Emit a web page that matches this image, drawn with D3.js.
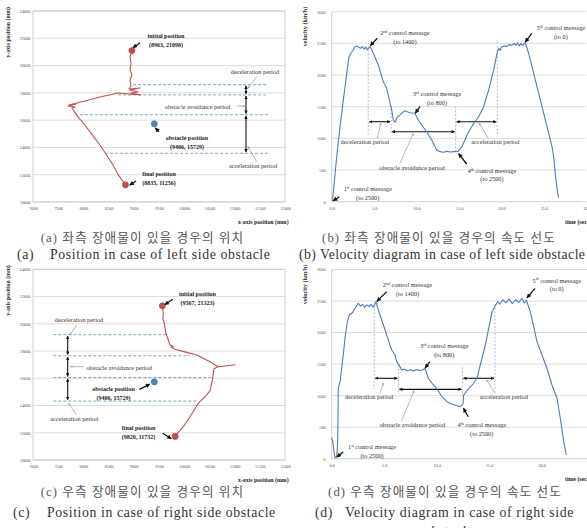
<!DOCTYPE html>
<html><head><meta charset="utf-8">
<script src="https://cdn.jsdelivr.net/npm/d3@7"></script>
<style>body{margin:0;background:#fff;overflow:hidden}svg{display:block}</style>
</head><body>
<svg id="c" width="587" height="528"></svg>
<script>
// ---------- DATA ----------
const posXTicks = [7000,7500,8000,8500,9000,9500,10000,10500,11000,11500,12000];
const posYTicks = [10000,12000,14000,16000,18000,20000,22000,24000];
const velYTicks = [0,500,1000,1500,2000,2500,3000];
const velXTicksB = [0,5,10,15,20,25,30];
const velXTicksD = [0,5,10,15,20,25];

// (a) left side obstacle trajectory (mm)
const trajAx = [8963,8925,8944,8925,8964,8925,8944,8905,9123,8925,9083,8944,9143,8686,8329,8032,7714,7853,7694,7833,7774,7900,8032,8180,8329,8460,8587,8700,8835];
const trajAy = [21098,20628,20188,19675,19309,18942,18502,18283,18356,18209,18063,17989,17843,17989,17696,17403,17110,17183,17036,16963,16890,16200,15644,14900,14178,13450,12712,11950,11256];
// (c) right side obstacle trajectory (mm)
const trajCx = [9567,9585,9575,9605,9620,9639,9684,9718,9784,9738,9817,10030,10248,10512,10676,11008,10676,10591,10560,10512,10400,10280,10115,9982,9900,9820];
const trajCy = [21323,20770,20400,20036,19700,19302,18810,18443,18318,18296,18127,17920,17709,17217,16850,16997,16850,16703,15900,15075,14600,14163,13179,12445,12100,11732];

const pointNames = ["initial position","obstacle position","final position"];
const pointsA = [[8963,21098],[9406,15729],[8835,11256]];
const pointsC = [[9567,21323],[9406,15729],[9820,11732]];

// period boundaries
const periodLevelsA = [18600,17850,16400,13570];
const periodStartA = [8985,8690,7930,8430];
const periodEndA = 11660;
const periodLevelsC = [19200,17650,16050,14330];
const periodEndC = [9684,10115,10545,10248];
const periodStartC = 7403;
const periodNames = ["deceleration period","obstacle avoidance period","acceleration period"];

// (b) velocity, left side obstacle
const velBt = [0.1,0.59,0.98,1.37,1.77,2.04,2.27,2.54,2.74,2.94,3.2,3.4,3.6,3.8,4.0,4.2,4.4,4.55,4.9,5.49,6.08,6.48,6.78,7.07,7.26,7.46,7.73,8.25,8.63,9.22,9.81,10.2,10.6,11.19,11.78,12.37,12.76,13.2,13.55,14.0,14.32,14.84,15.35,15.94,16.73,17.31,17.9,18.49,19.08,19.47,19.67,19.85,20.0,20.3,20.6,20.9,21.2,21.5,21.7,21.9,22.1,22.3,22.5,22.8,23.2,23.59,24.18,24.77,25.36,25.95,26.15,26.33,26.62,26.74];
const velBv = [10,711,1184,1606,2027,2290,2343,2395,2447,2459,2440,2420,2450,2410,2440,2400,2430,2450,2343,2159,1895,1790,1606,1448,1290,1254,1333,1396,1437,1405,1396,1290,1211,1105,974,816,790,780,795,785,790,790,868,1053,1238,1342,1500,1764,2080,2343,2422,2390,2440,2460,2450,2480,2470,2500,2470,2510,2460,2500,2470,2510,2343,2132,1816,1500,1184,868,711,448,133,63];
const periodTimesB = [4.3,7.0,14.6,19.5];

// (d) velocity, right side obstacle
const velDt = [0,0.1,0.22,0.31,0.48,0.57,0.63,0.8,0.95,1.1,1.27,1.49,1.68,2.0,2.22,2.53,2.75,2.95,3.15,3.35,3.55,3.75,3.95,4.1,4.22,4.44,4.76,5.08,5.39,5.71,6.03,6.19,6.41,6.67,6.9,7.2,7.5,7.8,8.1,8.4,8.7,8.89,9.2,9.68,10.0,10.5,10.98,11.46,11.93,12.25,12.5,12.57,13.05,13.52,13.84,14.15,14.63,14.95,15.27,15.58,15.8,16.0,16.3,16.6,16.9,17.2,17.5,17.8,18.1,18.35,18.53,18.91,19.24,19.55,20.03,20.5,20.98,21.46,21.77,22.1,22.34];
const velDv = [333,270,111,16,32,270,1116,1221,1434,1645,1910,2173,2279,2322,2385,2465,2420,2450,2400,2440,2410,2450,2400,2440,2490,2358,2200,2041,1883,1724,1645,1539,1486,1407,1420,1395,1410,1390,1415,1395,1410,1434,1275,1169,1116,983,904,863,841,825,870,1010,1116,1196,1275,1486,1803,2068,2331,2427,2490,2450,2520,2470,2530,2460,2520,2480,2540,2470,2517,2331,2093,1856,1645,1434,1169,958,641,270,59];
const periodTimesD = [4.05,6.35,12.45,15.55];

const ctrlOrd = ["1","2","3","4","5"];
const ctrlSup = ["st","nd","rd","th","th"];
const ctrlTarget = ["(to 2500)","(to 1400)","(to 800)","(to 2500)","(to 0)"];

// ---------- DRAW ----------
const svg = d3.select('#c');
svg.append('rect').attr('width',587).attr('height',528).attr('fill','#fff');
const SERIF = "'Liberation Serif', 'Times New Roman', serif";
const defs = svg.append('defs');
function mk(id, color, w, h, open){
  const m = defs.append('marker').attr('id',id).attr('viewBox','0 0 10 10').attr('refX',9).attr('refY',5)
    .attr('markerUnits','userSpaceOnUse').attr('markerWidth',w).attr('markerHeight',h).attr('orient','auto-start-reverse');
  if(open) m.append('path').attr('d','M1,1 L9,5 L1,9').attr('fill','none').attr('stroke',color).attr('stroke-width',1.4);
  else m.append('path').attr('d','M0,0 L10,5 L0,10 Z').attr('fill',color);
}
mk('ab','#111',5,4.5,false);
mk('pb','#111',3.6,3.4,false);
mk('lg','#888',3,3,true);

function txt(g,x,y,s,o={}){
  const t = g.append('text').attr('x',x).attr('y',y).attr('text-anchor',o.anchor||'middle')
    .attr('font-family',o.family||SERIF).attr('font-size',o.size||6.3)
    .attr('font-weight',o.bold?'bold':'normal').attr('fill',o.fill||'#333').text(s);
  if(o.ls) t.attr('letter-spacing',o.ls);
  return t;
}
function arrow(g,x1,y1,x2,y2,id,color,w,both){
  const l = g.append('line').attr('x1',x1).attr('y1',y1).attr('x2',x2).attr('y2',y2)
    .attr('stroke',color).attr('stroke-width',w).attr('marker-end',`url(#${id})`);
  if(both) l.attr('marker-start',`url(#${id})`);
  return l;
}
function ctrl(g,x,y,i){
  const t = g.append('text').attr('x',x).attr('y',y).attr('text-anchor','middle')
    .attr('font-family',SERIF).attr('font-size',6.3).attr('fill','#333');
  t.append('tspan').text(ctrlOrd[i]);
  t.append('tspan').attr('font-size',3.8).attr('dy',-2.3).text(ctrlSup[i]);
  t.append('tspan').attr('dy',2.3).text(' control message');
  txt(g,x,y+8.6,ctrlTarget[i]);
}
function styleAxis(s){
  s.select('.domain').remove();
  s.attr('font-family',SERIF).attr('font-size',4.3);
  s.selectAll('text').attr('fill','#555');
}

function positionPanel(P){
  const g = svg.append('g');
  const x = d3.scaleLinear().domain([7000,12000]).range([P.left,P.right]);
  const y = d3.scaleLinear().domain([10000,24000]).range([P.bottom,P.top]);
  g.selectAll('.gr').data(posYTicks).join('line').attr('x1',x(7000)).attr('x2',x(12000))
    .attr('y1',d=>y(d)).attr('y2',d=>y(d)).attr('stroke','#d9d9d9').attr('stroke-width',0.9);
  g.append('rect').attr('x',x(7000)).attr('y',y(24000)).attr('width',x(12000)-x(7000)).attr('height',y(10000)-y(24000))
    .attr('fill','none').attr('stroke','#c4c4c4').attr('stroke-width',0.8);
  g.append('g').attr('transform',`translate(${x(7000)},0)`)
    .call(d3.axisLeft(y).tickValues(posYTicks).tickSize(0).tickPadding(2.5).tickFormat(d3.format('d'))).call(styleAxis);
  g.append('g').attr('transform',`translate(0,${y(10000)})`)
    .call(d3.axisBottom(x).tickValues(posXTicks).tickSize(0).tickPadding(5).tickFormat(d3.format('d'))).call(styleAxis);
  g.append('text').attr('transform',`translate(10,${P.top-4}) rotate(-90)`).attr('text-anchor','end')
    .attr('font-family',SERIF).attr('font-size',5.8).attr('font-weight','bold').attr('fill','#222').text('y-axis position (mm)');
  txt(g,238,P.bottom+22,'x-axis position (mm)',{anchor:'start',bold:true,size:5.8,fill:'#222'});
  P.dashes.forEach(d=>{
    g.append('line').attr('x1',x(d[0])).attr('x2',x(d[1])).attr('y1',y(d[2])).attr('y2',y(d[2]))
      .attr('stroke','#5b8fc7').attr('stroke-width',0.8).attr('stroke-dasharray','3,2');
  });
  for(let i=0;i<3;i++){
    const a = P.levels[i], b = P.levels[i+1];
    arrow(g,x(P.arrowX),y(a)+1.2,x(P.arrowX),y(b)-1.2,'pb','#111',1.1,true);
  }
  const line = d3.line().x(d=>x(d[0])).y(d=>y(d[1]));
  g.append('path').datum(d3.zip(P.tx,P.ty)).attr('d',line).attr('fill','none')
    .attr('stroke','#c0504d').attr('stroke-width',1.1).attr('stroke-linejoin','round');
  P.pts.forEach((p,i)=>{
    g.append('circle').attr('cx',x(p[0])).attr('cy',y(p[1])).attr('r',3.1)
      .attr('fill',i===1?'#4f81bd':'#c0504d').attr('stroke',i===1?'#3d6ea8':'#a33a37').attr('stroke-width',0.5);
  });
  P.labels.forEach((L,i)=>{
    const p = P.pts[i];
    txt(g,x(L[0]),y(L[1])+2.1,pointNames[i],{bold:true,size:6,fill:'#222'});
    txt(g,x(L[0]),y(L[1])+11.1,`(${p[0]}, ${p[1]})`,{bold:true,size:6,fill:'#222'});
    arrow(g,x(L[2]),y(L[3]),x(L[4]),y(L[5]),'ab','#111',1.3);
  });
  P.plabels.forEach((L,i)=>{
    txt(g,x(L[0]),y(L[1])+2.1,periodNames[i],{anchor:L[6]||'middle'});
    arrow(g,x(L[2]),y(L[3]),x(L[4]),y(L[5]),'lg','#888',0.6);
  });
}

function velocityPanel(P){
  const g = svg.append('g');
  const x = d3.scaleLinear().domain([0,P.tmax]).range([P.left,P.right]);
  const y = d3.scaleLinear().domain([0,3000]).range([P.bottom,P.top]);
  g.selectAll('.gr').data(velYTicks.slice(1)).join('line').attr('x1',x(0)).attr('x2',x(P.tmax))
    .attr('y1',d=>y(d)).attr('y2',d=>y(d)).attr('stroke','#d9d9d9').attr('stroke-width',0.9);
  g.append('line').attr('x1',x(0)).attr('x2',x(0)).attr('y1',y(0)).attr('y2',y(3000)).attr('stroke','#c4c4c4').attr('stroke-width',0.8);
  g.append('line').attr('x1',x(0)).attr('x2',x(P.tmax)).attr('y1',y(0)).attr('y2',y(0)).attr('stroke','#c4c4c4').attr('stroke-width',0.8);
  g.append('g').attr('transform',`translate(${x(0)},0)`)
    .call(d3.axisLeft(y).tickValues(velYTicks).tickSize(0).tickPadding(6).tickFormat(d3.format('d'))).call(styleAxis);
  g.append('g').attr('transform',`translate(0,${y(0)})`)
    .call(d3.axisBottom(x).tickValues(P.ticks).tickSize(0).tickPadding(5).tickFormat(d3.format('.1f'))).call(styleAxis);
  g.append('text').attr('transform',`translate(307,${P.top-5}) rotate(-90)`).attr('text-anchor','end')
    .attr('font-family',SERIF).attr('font-size',6.2).attr('font-weight','bold').attr('fill','#222').text('velocity (km/h)');
  txt(g,565,P.bottom+22,'time (sec)',{anchor:'start',bold:true,size:5.8,fill:'#222'});
  P.dashes.forEach(d=>{
    g.append('line').attr('x1',x(d[0])).attr('x2',x(d[0])).attr('y1',y(d[1])).attr('y2',y(d[2]))
      .attr('stroke','#8fb0d6').attr('stroke-width',0.8).attr('stroke-dasharray','2,1.6');
  });
  P.parrows.forEach(d=>arrow(g,x(d[0])+1,y(d[2]),x(d[1])-1,y(d[2]),'pb','#111',1.1,true));
  const line = d3.line().x(d=>x(d[0])).y(d=>y(d[1]));
  g.append('path').datum(d3.zip(P.t,P.v)).attr('d',line).attr('fill','none')
    .attr('stroke','#4a7ebb').attr('stroke-width',1.1).attr('stroke-linejoin','round');
  P.ctrl.forEach((L,i)=>{
    ctrl(g,x(L[0]),y(L[1])+2.1,i);
    arrow(g,x(L[2]),y(L[3]),x(L[4]),y(L[5]),'ab','#111',1.3);
  });
  P.plabels.forEach((L,i)=>{
    txt(g,x(L[0]),y(L[1])+2.1,periodNames[i]);
    arrow(g,x(L[2]),y(L[3]),x(L[4]),y(L[5]),'lg','#888',0.6);
  });
}

positionPanel({left:33,right:285,top:11,bottom:202,tx:trajAx,ty:trajAy,pts:pointsA,
  dashes: periodLevelsA.map((l,i)=>[periodStartA[i],periodEndA,l]),
  levels: periodLevelsA, arrowX:11226,
  labels:[[9639,22168,9123,21676,8985,21300],[10055,14691,9500,15153,9425,15430],[9500,12052,9043,11539,8920,11240]],
  plabels:[[11404,19529,11438,19162,11266,18356],[10264,16963,11047,17036,11200,17036],[11365,12638,11438,12954,11266,14053]]
});
positionPanel({left:33,right:285,top:269.3,bottom:460,tx:trajCx,ty:trajCy,pts:pointsC,
  dashes: periodLevelsC.map((l,i)=>[periodStartC,periodEndC[i],l]),
  levels: periodLevelsC, arrowX:7688,
  labels:[[10264,22165,9772,21798,9615,21400],[8597,15235,9109,15191,9320,15570],[9093,12328,9573,11961,9745,11560]],
  plabels:[[7913,20278,7867,19911,7734,19177],[8060,16777,8012,16850,7740,16850,'start'],[7819,12988,7867,13304,7700,14163]]
});
velocityPanel({left:331.7,right:331.7+8.49*30,top:11.7,bottom:201.7,tmax:30,ticks:velXTicksB,t:velBt,v:velBv,
  dashes:[[periodTimesB[0],2459,1050],[periodTimesB[1],1520,1090],[periodTimesB[2],1500,780],[periodTimesB[3],2520,1050]],
  parrows:[[periodTimesB[0],periodTimesB[1],1263],[periodTimesB[1],periodTimesB[2],1105],[periodTimesB[2],periodTimesB[3],1263]],
  ctrl:[[4.24,196,0.9,79,0.18,15],[8.63,2659,5.37,2580,4.55,2465],[12.4,1700,10.4,1500,9.85,1400],[18.88,489,15.9,595,14.95,760],[27.0,2740,23.56,2659,22.8,2520]],
  plabels:[[3.89,947,5.37,1001,5.77,1238],[9.46,527,8.04,606,9.61,1080],[19.27,947,18.45,1001,17.38,1238]]
});
velocityPanel({left:331.7,right:331.7+10.5*25,top:269.5,bottom:458.7,tmax:25,ticks:velXTicksD,t:velDt,v:velDv,
  dashes:[[periodTimesD[0],2490,1110],[periodTimesD[1],1486,1060],[periodTimesD[2],1450,985],[periodTimesD[3],2390,1060]],
  parrows:[[periodTimesD[0],periodTimesD[1],1275],[periodTimesD[1],periodTimesD[2],1100],[periodTimesD[2],periodTimesD[3],1275]],
  ctrl:[[3.84,181,1.1,111,0.5,25],[7.22,2755,5.24,2649,4.3,2495],[10.72,1787,9.36,1538,8.9,1440],[14.29,534,13.0,666,12.55,800],[21.43,2823,19.36,2702,18.6,2550]],
  plabels:[[3.55,974,4.6,1037,4.91,1196],[7.68,534,6.67,603,7.84,1078],[16.39,974,15.55,1037,14.76,1249]]
});

// captions
const KR = "'Liberation Serif', 'Noto Sans CJK KR', serif";
const cap = svg.append('g');
const krO = {family:KR,size:12.6,fill:'#555',ls:1.1};
const enO = {anchor:'start',size:13.8,fill:'#333',ls:0.6};
txt(cap,142.5,241.5,'(a) 좌측 장애물이 있을 경우의 위치',krO);
txt(cap,17,258.5,'(a)',enO);
txt(cap,50,258.5,'Position in case of left side obstacle',enO);
txt(cap,439,241.5,'(b) 좌측 장애물이 있을 경우의 속도 선도',krO);
txt(cap,299,258.5,'(b) Velocity diagram in case of left side obstacle',Object.assign({},enO,{ls:0.4}));
txt(cap,142.5,496,'(c) 우측 장애물이 있을 경우의 위치',krO);
txt(cap,13,516.5,'(c)',enO);
txt(cap,47,516.5,'Position in case of right side obstacle',enO);
txt(cap,445,496,'(d) 우측 장애물이 있을 경우의 속도 선도',krO);
txt(cap,315,516.5,'(d)',enO);
txt(cap,345,516.5,'Velocity diagram in case of right side',enO);
txt(cap,449,536,'obstacle',Object.assign({},enO,{anchor:'middle'}));
</script>
</body></html>
